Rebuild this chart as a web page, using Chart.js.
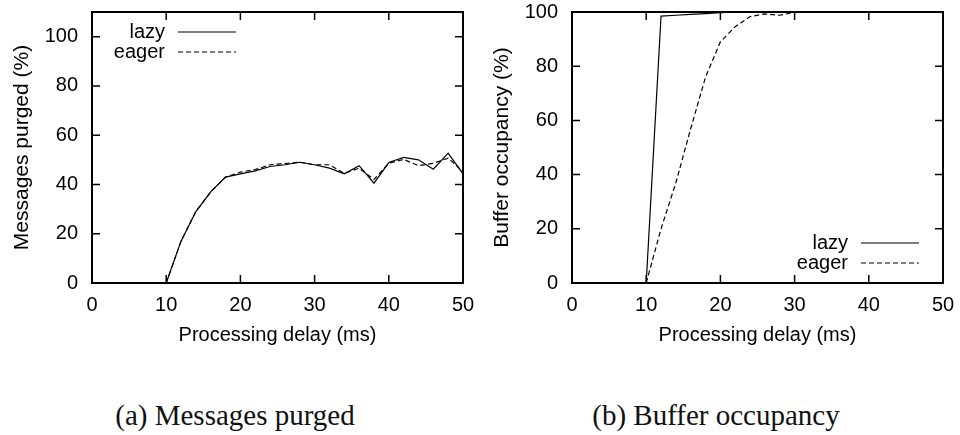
<!DOCTYPE html>
<html>
<head>
<meta charset="utf-8">
<script src="https://cdn.jsdelivr.net/npm/chart.js@4.4.1/dist/chart.umd.min.js"></script>
<style>
  body { margin: 0; background: #fff; }
  #wrap { position: relative; width: 960px; height: 435px; }
  canvas { position: absolute; top: 0; }
  .cap { position: absolute; top: 399px; width: 480px; text-align: center;
         font-family: "Liberation Serif", serif; font-size: 29px; color: #111; }
</style>
</head>
<body>
<div id="wrap">
  <canvas id="purged" width="480" height="350" style="left:0"></canvas>
  <canvas id="buffer" width="480" height="350" style="left:480px"></canvas>
  <div class="cap" style="left:-5px">(a) Messages purged</div>
  <div class="cap" style="left:476px">(b) Buffer occupancy</div>
</div>
<script>
var delays = [10, 12, 14, 16, 18, 20, 22, 24, 26, 28, 30, 32, 34, 36, 38, 40, 42, 44, 46, 48, 50];

var lazyPurged  = [0, 17, 29, 37, 43, 44.3, 45.5, 47.3, 48, 49, 48, 46.6, 44.3, 47.6, 40.5, 48.9, 51, 50, 46.2, 52.7, 44.3];
var eagerPurged = [0, 17, 29, 37, 43, 45, 46, 48, 48.5, 49, 48, 48, 44.5, 46.6, 42, 48.6, 50.2, 47.6, 48.6, 50.7, 45.2];

var lazyBuffer  = [0, 98.5, 98.8, 99.1, 99.4, 99.8, 100, 100, 100, 100, 100, 100, 100, 100, 100, 100, 100, 100, 100, 100, 100];
var eagerBuffer = [0, 20, 37, 57, 76, 89, 94.6, 98.3, 99.3, 98.8, 99.9, 100, 100, 100, 100, 100, 100, 100, 100, 100, 100];

var xTicks = [0, 10, 20, 30, 40, 50];
var yTicks = [0, 20, 40, 60, 80, 100];

var sans = "'Liberation Sans', Arial, sans-serif";

function points(ys) {
  return delays.map(function (d, i) { return { x: d, y: ys[i] }; });
}

// gnuplot-like frame with inward ticks on all four sides
var frame = {
  id: 'frame',
  afterDatasetsDraw: function (chart) {
    var ctx = chart.ctx, a = chart.chartArea;
    var xs = chart.scales.x, ys = chart.scales.y;
    var len = 8;
    ctx.save();
    ctx.strokeStyle = '#000';
    ctx.lineWidth = 1.5;
    ctx.beginPath();
    xs.ticks.forEach(function (t) {
      var px = xs.getPixelForValue(t.value);
      ctx.moveTo(px, a.bottom); ctx.lineTo(px, a.bottom - len);
      ctx.moveTo(px, a.top); ctx.lineTo(px, a.top + len);
    });
    ys.ticks.forEach(function (t) {
      var py = ys.getPixelForValue(t.value);
      ctx.moveTo(a.left, py); ctx.lineTo(a.left + len, py);
      ctx.moveTo(a.right, py); ctx.lineTo(a.right - len, py);
    });
    ctx.stroke();
    ctx.lineWidth = 2;
    ctx.strokeRect(a.left, a.top, a.right - a.left, a.bottom - a.top);
    ctx.restore();
  }
};

// key drawn inside the plot: label right-aligned, line sample to its right
var insideKey = {
  id: 'insideKey',
  afterDraw: function (chart, args, opts) {
    var ctx = chart.ctx, a = chart.chartArea;
    var sets = chart.data.datasets;
    ctx.save();
    ctx.font = '20px ' + sans;
    ctx.textAlign = 'right';
    ctx.textBaseline = 'middle';
    sets.forEach(function (ds, i) {
      var y, textRight, lineStart, lineEnd;
      if (opts.corner === 'topleft') {
        y = a.top + 20 + i * 20;
        textRight = a.left + 73;
      } else {
        y = a.bottom - 20 - (sets.length - 1 - i) * 20;
        textRight = a.right - 95;
      }
      lineStart = textRight + 13;
      lineEnd = lineStart + 58;
      ctx.fillStyle = '#000';
      ctx.fillText(ds.label, textRight, y);
      ctx.strokeStyle = ds.borderColor;
      ctx.lineWidth = ds.borderWidth;
      ctx.setLineDash(ds.borderDash || []);
      ctx.beginPath();
      ctx.moveTo(lineStart, y);
      ctx.lineTo(lineEnd, y);
      ctx.stroke();
    });
    ctx.restore();
  }
};

function makeChart(id, lazy, eager, yMax, yTitle, corner) {
  return new Chart(document.getElementById(id), {
    type: 'line',
    data: {
      datasets: [{
        label: 'lazy',
        data: points(lazy),
        borderColor: '#000',
        borderWidth: 1.2,
        pointRadius: 0,
        tension: 0,
        fill: false
      }, {
        label: 'eager',
        data: points(eager),
        borderColor: '#000',
        borderWidth: 1.2,
        borderDash: [5, 3],
        pointRadius: 0,
        tension: 0,
        fill: false
      }]
    },
    options: {
      responsive: false,
      animation: false,
      layout: { padding: { left: 0, right: 17, top: 12, bottom: 0 } },
      plugins: {
        legend: { display: false },
        tooltip: { enabled: false },
        insideKey: { corner: corner }
      },
      scales: {
        x: {
          type: 'linear',
          min: 0,
          max: 50,
          afterBuildTicks: function (s) { s.ticks = xTicks.map(function (v) { return { value: v }; }); },
          afterFit: function (s) { s.height = 67; s.paddingLeft = 0; s.paddingRight = 0; },
          grid: { display: false, drawTicks: false },
          border: { display: false },
          ticks: { color: '#000', padding: 10, maxRotation: 0, font: { family: sans, size: 20 } },
          title: { display: true, text: 'Processing delay (ms)', color: '#000',
                   padding: { top: 0, bottom: 3 }, font: { family: sans, size: 20 } }
        },
        y: {
          min: 0,
          max: yMax,
          afterBuildTicks: function (s) { s.ticks = yTicks.map(function (v) { return { value: v }; }); },
          afterFit: function (s) { s.width = 92; s.paddingTop = 0; s.paddingBottom = 0; },
          grid: { display: false, drawTicks: false },
          border: { display: false },
          ticks: { color: '#000', padding: 14, font: { family: sans, size: 20 } },
          title: { display: true, text: yTitle, color: '#000',
                   padding: { top: 10, bottom: 0 }, font: { family: sans, size: 21 } }
        }
      }
    },
    plugins: [frame, insideKey]
  });
}

makeChart('purged', lazyPurged, eagerPurged, 110, 'Messages purged (%)', 'topleft');
makeChart('buffer', lazyBuffer, eagerBuffer, 100, 'Buffer occupancy (%)', 'bottomright');
</script>
</body>
</html>
